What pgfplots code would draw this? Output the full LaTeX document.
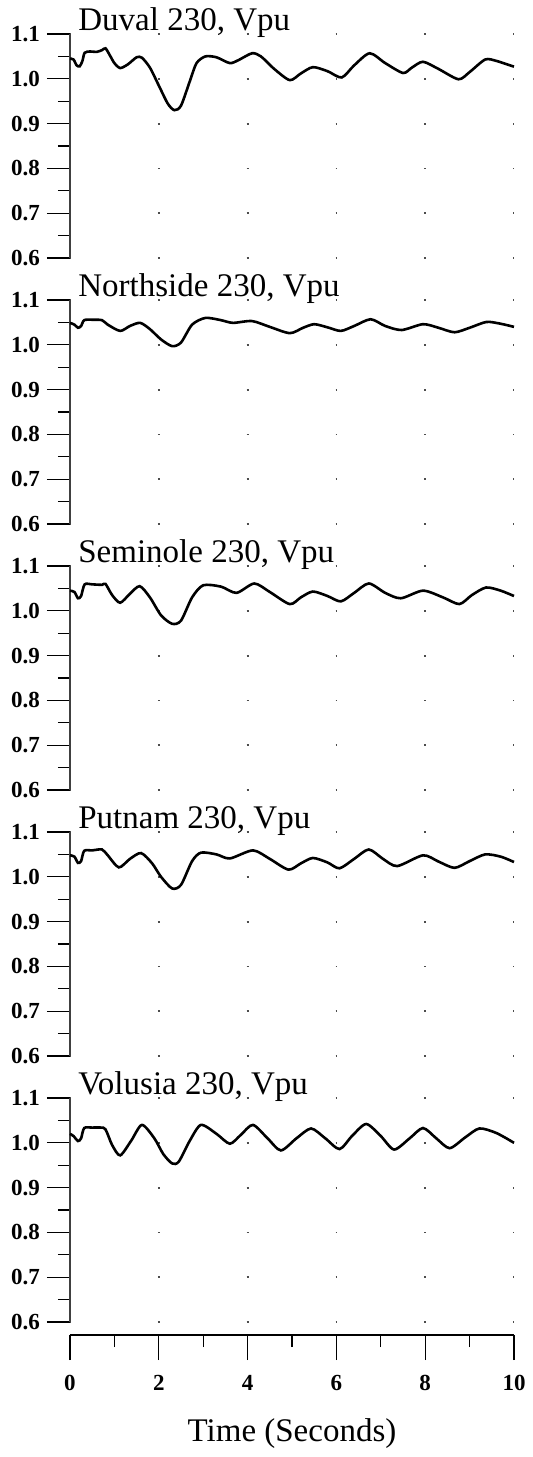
\documentclass[border=0pt]{standalone}
\usepackage{fontspec}
\setmainfont{Liberation Serif}
\usepackage{pgfplots}
\pgfplotsset{compat=1.18}

\pgfplotsset{
  panel/.style={
    scale only axis, width=222pt, height=112pt,
    xmin=0, xmax=10, ymin=0.6, ymax=1.1,
    axis y line*=left, axis x line=none,
    clip=false,
    ytick={0.6,0.7,0.8,0.9,1.0,1.1},
    yticklabels={0.6,0.7,0.8,0.9,1.0,1.1},
    minor ytick={0.65,0.75,0.85,0.95,1.05},
    tick align=outside,
    major tick length=11.5pt, minor tick length=6pt,
    yticklabel style={font=\bfseries\fontsize{11.5}{13}\selectfont},
    every tick/.style={black, line width=0.6pt},
    y axis line style={line width=0.6pt, black!75},
    ymajorgrids,
    major grid style={draw=black!70, line width=0.9pt,
      dash pattern=on 0.9pt off 43.5pt, dash phase=0.45pt},
  },
  curve/.style={black, line width=1.3pt, smooth, tension=0.45, no marks},
}
\tikzset{ttl/.style={anchor=base west, inner sep=0pt, font=\fontsize{16.5}{18}\selectfont}}

\begin{document}
\begin{tikzpicture}
\useasboundingbox (-35pt,-599.5pt) rectangle (231pt,129pt);

% Duval
\begin{axis}[panel, at={(0,0)}]
\addplot[curve] coordinates {
(0,1.045) (0.08,1.043) (0.15,1.030) (0.22,1.028) (0.28,1.040) (0.33,1.058)
(0.45,1.061) (0.6,1.060) (0.72,1.064) (0.8,1.068) (0.9,1.052) (1.0,1.035)
(1.13,1.024) (1.3,1.032) (1.5,1.048) (1.62,1.047) (1.8,1.025) (2.0,0.985)
(2.2,0.945) (2.35,0.930) (2.5,0.940) (2.7,0.995) (2.85,1.035) (3.05,1.050)
(3.3,1.048) (3.6,1.035) (3.8,1.042) (4.1,1.057) (4.3,1.050) (4.6,1.022)
(4.95,0.997) (5.2,1.012) (5.47,1.026) (5.8,1.017) (6.12,1.003) (6.4,1.030)
(6.75,1.057) (7.1,1.035) (7.5,1.013) (7.7,1.025) (7.95,1.038) (8.3,1.022)
(8.75,0.999) (9.0,1.015) (9.35,1.043) (9.6,1.040) (10,1.027)};
\node[ttl] at (rel axis cs:0.018,1) [yshift=2pt] {Duval 230, Vpu};
\end{axis}

% Northside
\begin{axis}[panel, at={(0,-133pt)}]
\addplot[curve] coordinates {
(0,1.049) (0.1,1.045) (0.18,1.038) (0.25,1.042) (0.32,1.055) (0.5,1.056)
(0.72,1.055) (0.85,1.045) (1.13,1.031) (1.35,1.042) (1.58,1.049) (1.8,1.035)
(2.05,1.012) (2.3,0.997) (2.5,1.005) (2.75,1.045) (3.05,1.060) (3.4,1.055)
(3.67,1.049) (4.1,1.053) (4.5,1.040) (4.95,1.026) (5.25,1.038) (5.5,1.046)
(5.8,1.039) (6.1,1.031) (6.4,1.042) (6.77,1.057) (7.1,1.042) (7.47,1.033)
(7.95,1.046) (8.3,1.038) (8.66,1.028) (9.0,1.038) (9.38,1.051) (9.7,1.047)
(10,1.040)};
\node[ttl] at (rel axis cs:0.018,1) [yshift=2pt] {Northside 230, Vpu};
\end{axis}

% Seminole
\begin{axis}[panel, at={(0,-266pt)}]
\addplot[curve] coordinates {
(0,1.045) (0.1,1.042) (0.18,1.028) (0.25,1.033) (0.33,1.059) (0.5,1.059)
(0.72,1.058) (0.8,1.060) (0.95,1.035) (1.13,1.018) (1.35,1.038) (1.57,1.055)
(1.8,1.030) (2.05,0.990) (2.3,0.971) (2.5,0.978) (2.75,1.030) (3.0,1.057)
(3.4,1.054) (3.75,1.040) (4.15,1.061) (4.5,1.042) (4.95,1.015) (5.2,1.030)
(5.47,1.043) (5.8,1.033) (6.1,1.021) (6.4,1.040) (6.73,1.061) (7.1,1.040)
(7.45,1.028) (7.95,1.045) (8.4,1.030) (8.77,1.015) (9.05,1.035) (9.37,1.052)
(9.7,1.045) (10,1.033)};
\node[ttl] at (rel axis cs:0.018,1) [yshift=2pt] {Seminole 230, Vpu};
\end{axis}

% Putnam
\begin{axis}[panel, at={(0,-399pt)}]
\addplot[curve] coordinates {
(0,1.048) (0.1,1.045) (0.18,1.031) (0.25,1.035) (0.32,1.058) (0.5,1.059)
(0.72,1.061) (0.85,1.048) (1.1,1.021) (1.35,1.040) (1.6,1.053) (1.85,1.030)
(2.05,1.000) (2.3,0.974) (2.5,0.982) (2.75,1.035) (2.95,1.054) (3.3,1.050)
(3.6,1.041) (4.12,1.059) (4.5,1.040) (4.92,1.016) (5.2,1.030) (5.47,1.042)
(5.8,1.032) (6.07,1.019) (6.4,1.040) (6.73,1.061) (7.05,1.040) (7.37,1.024)
(7.95,1.048) (8.3,1.034) (8.66,1.020) (9.0,1.035) (9.35,1.050) (9.7,1.045)
(10,1.033)};
\node[ttl] at (rel axis cs:0.018,1) [yshift=2pt] {Putnam 230, Vpu};
\end{axis}

% Volusia
\begin{axis}[panel, at={(0,-532pt)}]
\addplot[curve] coordinates {
(0,1.020) (0.08,1.015) (0.18,1.004) (0.25,1.010) (0.32,1.033) (0.5,1.034)
(0.7,1.034) (0.8,1.030) (0.95,0.995) (1.13,0.972) (1.38,1.005) (1.62,1.040)
(1.9,1.010) (2.1,0.975) (2.3,0.954) (2.45,0.958) (2.7,1.005) (2.95,1.040)
(3.3,1.020) (3.6,0.998) (3.85,1.018) (4.12,1.040) (4.45,1.010) (4.75,0.983)
(5.1,1.010) (5.43,1.032) (5.75,1.010) (6.07,0.986) (6.35,1.015) (6.67,1.042)
(7.0,1.015) (7.3,0.985) (7.65,1.010) (7.95,1.033) (8.25,1.010) (8.55,0.988)
(8.9,1.012) (9.22,1.032) (9.6,1.022) (10,1.000)};
\node[ttl] at (rel axis cs:0.018,1) [yshift=2pt] {Volusia 230, Vpu};
\end{axis}

% time axis
\begin{axis}[at={(0,-538.5pt)}, scale only axis, width=222pt, height=1pt,
  xmin=0, xmax=10, ymin=0, ymax=1,
  axis x line*=bottom, axis y line=none,
  xtick={0,2,4,6,8,10}, xticklabels={0,2,4,6,8,10},
  minor xtick={1,3,5,7,9},
  tick align=outside, major tick length=12.5pt, minor tick length=6pt,
  every tick/.style={black, line width=0.6pt},
  x axis line style={line width=1pt},
  xticklabel style={font=\bfseries\fontsize{11.5}{13}\selectfont, yshift=-4pt},
  xlabel={Time (Seconds)},
  xlabel style={font=\fontsize{16.5}{18}\selectfont, yshift=-7pt}]
\end{axis}
\end{tikzpicture}
\end{document}
